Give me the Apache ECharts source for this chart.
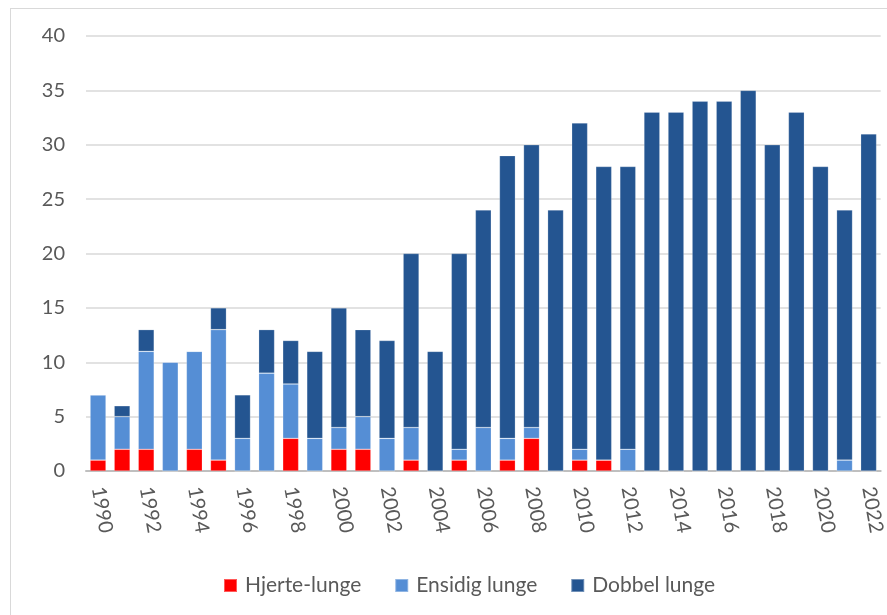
<!DOCTYPE html>
<html><head><meta charset="utf-8">
<script src="https://cdn.jsdelivr.net/npm/echarts@6/dist/echarts.min.js"></script>
<style>
html,body{margin:0;padding:0;background:#fff;overflow:hidden}
#frame{position:absolute;left:10px;top:8px;width:900px;height:640px;border:1px solid #d9d9d9;box-sizing:border-box}
#c{position:absolute;left:0;top:0;width:887px;height:615px}
</style></head><body>
<div id="frame"></div>
<div id="c"></div>
<script>
const years = ['1990','1991','1992','1993','1994','1995','1996','1997','1998','1999','2000','2001','2002','2003','2004','2005','2006','2007','2008','2009','2010','2011','2012','2013','2014','2015','2016','2017','2018','2019','2020','2021','2022'];
const hjerteLunge = [1,2,2,0,2,1,0,0,3,0,2,2,0,1,0,1,0,1,3,0,1,1,0,0,0,0,0,0,0,0,0,0,0];
const ensidigLunge = [6,3,9,10,9,12,3,9,5,3,2,3,3,3,0,1,4,2,1,0,1,0,2,0,0,0,0,0,0,0,0,1,0];
const dobbelLunge = [0,1,2,0,0,2,4,4,4,8,11,8,9,16,11,18,20,26,26,24,30,27,26,33,33,34,34,35,30,33,28,23,31];
const yTicks = [0,5,10,15,20,25,30,35,40];

const font = 'Lato, "Open Sans", sans-serif';
const chart = echarts.init(document.getElementById('c'));
const mk = (name, data, color) => ({
  name, type:'bar', stack:'t', data, barCategoryGap:'34%',
  itemStyle:{color, borderColor:'rgba(255,255,255,0.35)', borderWidth:0.6},
  emphasis:{disabled:true}
});
chart.setOption({
  animation:false,
  grid:{left:86, right:3, top:36, bottom:144, containLabel:false},
  legend:{
    top:570, left:218, itemWidth:13, itemHeight:13, itemGap:33,
    icon:'rect',
    textStyle:{fontFamily:font, fontSize:21, color:'#595959', padding:[0,0,0,3]},
    data:['Hjerte-lunge','Ensidig lunge','Dobbel lunge']
  },
  xAxis:{
    type:'category', data:years,
    axisLine:{lineStyle:{color:'#bfbfbf', width:2}},
    axisTick:{show:false},
    axisLabel:{interval:1, rotate:-80, margin:16, fontFamily:font, fontSize:20, color:'#595959'}
  },
  yAxis:{
    type:'value', min:yTicks[0], max:yTicks[yTicks.length-1], interval:5,
    axisLine:{show:false}, axisTick:{show:false},
    splitLine:{lineStyle:{color:'#d9d9d9', width:1.5}},
    axisLabel:{margin:21, fontFamily:font, fontSize:20, color:'#595959'}
  },
  series:[
    mk('Hjerte-lunge', hjerteLunge, '#ff0000'),
    mk('Ensidig lunge', ensidigLunge, '#558ed5'),
    mk('Dobbel lunge', dobbelLunge, '#245591')
  ]
});
</script>
</body></html>
